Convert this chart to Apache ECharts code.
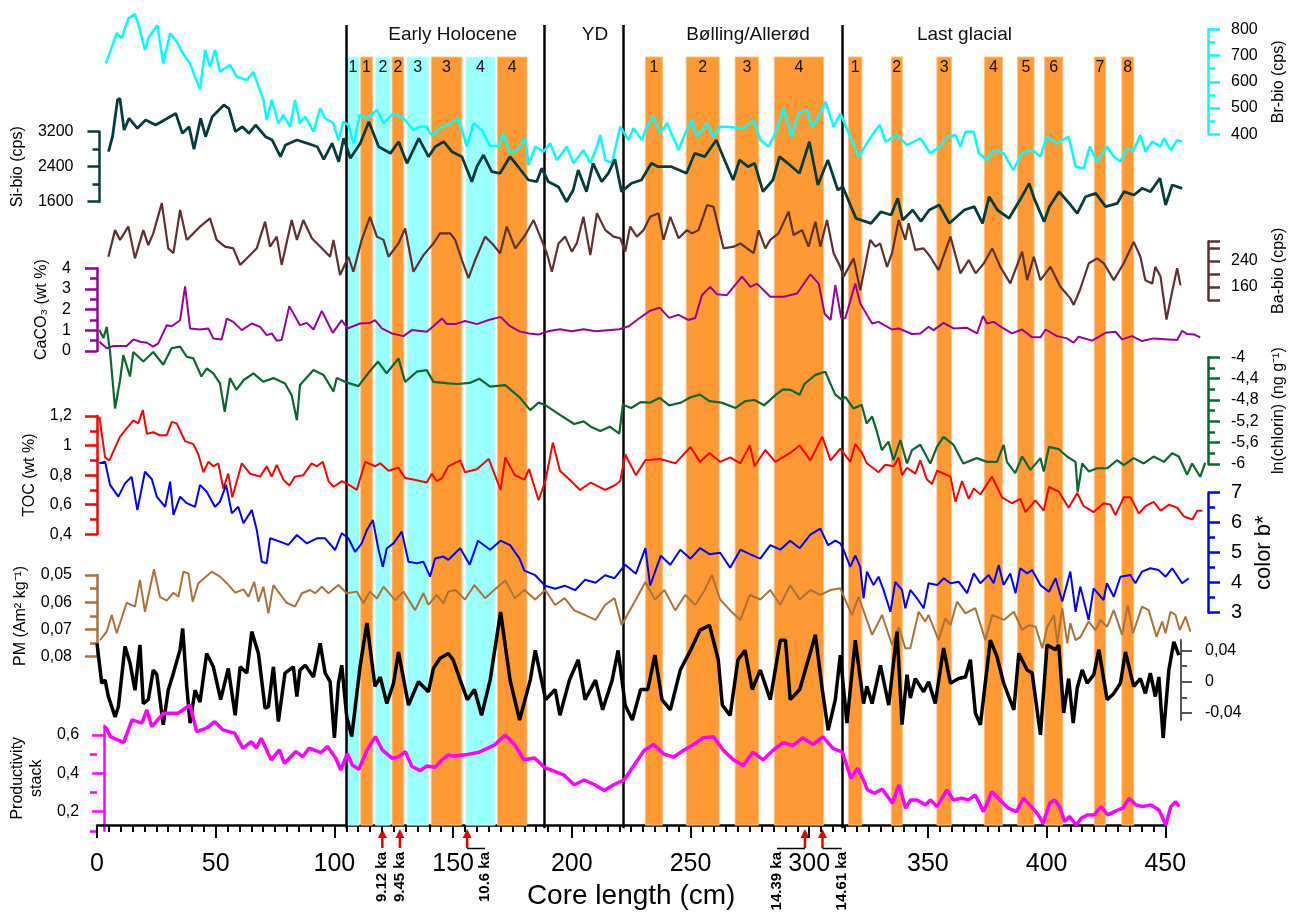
<!DOCTYPE html>
<html>
<head>
<meta charset="utf-8">
<title>Core proxies vs core length</title>
<script src="https://cdn.jsdelivr.net/npm/echarts@6/dist/echarts.min.js"></script>
<style>
html, body { margin: 0; padding: 0; background: #fff; }
#chart { width: 1298px; height: 915px; }
</style>
</head>
<body>
<div id="chart"></div>
<script>
// ---- data (core depth in cm, proxy value) ----
var brBio = [[3.8,670],[8.3,785],[10.4,766],[13.2,842],[16,858],[18.1,797],[20.2,721],[21.6,766],[25.4,816],[27.9,670],[30.8,785],[33.6,753],[36.1,709],[39.2,670],[41.3,619],[43.4,571],[45.5,721],[47.6,658],[49.7,721],[51.8,638],[56,664],[58.9,619],[63.1,607],[65.9,638],[70.1,531],[71.5,454],[73.6,531],[76.4,442],[78.5,474],[81.3,429],[83.4,531],[85.5,442],[87.7,467],[91.2,410],[94,499],[96.1,461],[99.6,442],[101.7,378],[103.8,448],[105.9,435],[108,366],[110.8,474],[113.7,461],[117.9,493],[120.7,442],[124.9,480],[129.1,461],[133.3,416],[136,429],[138.9,429],[140.3,404],[141.7,397],[144.5,423],[148.8,442],[152.3,461],[155.8,353],[158.6,442],[162.1,416],[165.6,355],[169.1,355],[171.2,404],[174,328],[176.8,340],[180.4,385],[181.8,283],[184.6,353],[188.1,334],[190.9,366],[193.7,302],[197.9,353],[200.7,290],[204.9,340],[207.8,290],[210.6,353],[212,397],[214.1,302],[216.9,290],[220.4,429],[223.9,378],[226,423],[229.5,378],[231.6,429],[234.4,467],[237.3,404],[240.1,442],[245,340],[247.8,404],[250.6,454],[252.7,391],[257,442],[259.7,391],[262.5,429],[265.3,429],[272.3,423],[276.6,454],[279.4,378],[282.9,353],[285.7,404],[289.2,499],[292.7,391],[295.5,480],[299.1,493],[301.2,429],[304,467],[306.8,524],[310.3,429],[313.1,480],[313.8,486],[317.3,391],[320.8,315],[326.5,397],[329.7,435],[332.1,372],[337,397],[341.2,359],[346.8,385],[351,328],[355.2,353],[358.1,391],[361.6,397],[363.7,353],[365.8,410],[369.3,410],[371.4,328],[374.9,302],[377.7,340],[381.9,328],[385.9,264],[389.7,328],[393.9,340],[397.4,315],[400,391],[404.4,366],[409.3,391],[412.2,277],[415.6,270],[418.2,353],[421.3,296],[425.5,353],[428.3,315],[431.1,296],[433.9,347],[436.7,340],[439.5,397],[441.6,334],[444.5,372],[448,353],[449.4,385],[452.2,340],[455,378],[457.1,372]];

var siBio = [[3.8,2743],[5.5,3086],[7.6,3925],[8.6,3963],[10.4,3239],[12.5,3506],[16,3278],[19.5,3467],[23.7,3353],[28.7,3506],[32.2,3620],[35,3163],[37.8,3314],[39.9,2798],[42.7,3506],[44.8,3086],[47.6,3543],[52.5,3810],[54.6,3735],[57.4,3200],[60.3,3314],[63.1,3163],[65.9,3353],[70.1,3086],[72.9,3010],[76.4,2629],[78.5,2896],[83.4,3010],[87.7,2935],[91.9,2857],[94.7,2569],[98.2,2935],[101,2514],[103.1,3049],[105.9,2592],[110.1,2935],[113.7,3428],[117.9,2857],[122.8,2706],[126.3,2971],[129.8,2478],[134.8,3049],[138.9,2629],[141.7,2857],[145.3,2971],[148.8,2743],[153,2629],[157.2,2057],[159.3,2400],[162.1,2667],[165.6,2286],[169.1,2249],[173.3,2629],[176.2,2439],[181.1,2096],[184.6,2057],[186.7,2363],[189.5,2057],[193.7,1943],[197.2,1600],[200,1867],[202.1,2325],[205.6,1829],[208.4,2478],[212,2057],[214.8,2249],[217.6,2569],[220.4,1829],[224.6,2021],[228.8,2096],[233,2478],[235.9,2400],[241.5,2400],[247.8,2249],[251.3,2706],[255.5,2629],[260.4,3010],[263.3,2629],[267.5,2096],[270.2,2553],[273.8,2400],[276.6,2478],[280.1,1829],[284.3,2096],[287.1,2629],[290.6,2478],[295.5,2249],[299.7,2971],[303.3,1981],[307.5,2553],[311.7,1867],[313.8,1943],[317.3,1486],[319.4,1220],[325.7,1106],[329.9,1371],[334.2,1296],[337,1677],[339.1,1182],[343.3,1410],[346.8,1150],[350.3,1410],[354.5,1524],[358.8,1106],[365.1,1410],[369.3,1486],[372.8,1106],[375.6,1714],[379.1,1410],[384,1220],[389,1677],[392.5,2020],[394.6,1677],[398.8,1143],[401,1486],[405.1,1829],[410,1524],[412.8,1334],[416.3,1714],[420.6,1791],[424.8,1486],[429.7,1562],[432.5,1829],[436.7,1753],[440.2,1906],[443.7,1829],[447.7,2135],[450.1,1524],[452.9,1981],[457.1,1906]];

var baBio = [[4.8,253],[7.6,335],[9.7,305],[13.2,346],[16,248],[19.5,335],[21.6,289],[23.7,325],[27.3,418],[30,279],[32.2,264],[35,397],[37.8,305],[40.6,325],[43.4,346],[47.6,371],[50.4,305],[53.9,284],[57.4,279],[60.3,228],[63.8,253],[67.3,279],[70.8,361],[72.9,284],[75.7,315],[77.8,228],[82,366],[84.2,305],[86.9,366],[90.5,310],[94.7,279],[98.2,253],[99.6,305],[102.4,197],[105.9,253],[108,207],[111.5,305],[115,376],[117.9,315],[120.7,305],[122.8,253],[127,294],[129.8,340],[133.3,207],[137.5,258],[141.7,294],[144.5,325],[148.8,325],[150.9,305],[153.7,243],[156.5,187],[159.3,243],[163.5,315],[167,289],[169.8,264],[172.6,346],[176.2,279],[180.4,320],[183.9,366],[186.7,315],[189.5,264],[191.6,207],[194.4,294],[197.2,315],[200,269],[202.1,294],[204.9,376],[207.8,258],[210.6,387],[214.1,335],[217.6,315],[220.4,310],[222.5,269],[224.6,346],[227.4,315],[230.2,335],[233,376],[236.5,387],[238.6,305],[241.5,376],[245,310],[248.5,335],[250.6,325],[253.4,335],[257,412],[259.7,407],[263.9,279],[268.2,284],[271,294],[273.8,279],[276.6,264],[278.7,335],[281.5,279],[283.6,305],[287.1,325],[291.3,392],[293.4,320],[297,335],[299.7,284],[302.6,361],[304.7,284],[307.5,366],[310.3,264],[313.1,222],[314.5,192],[318.7,248],[321.5,150],[325.7,305],[327.9,284],[329.9,294],[332.8,222],[334.9,264],[337.7,366],[340.5,305],[341.9,356],[344.7,274],[348.2,279],[351,253],[354.5,212],[359.5,315],[363.7,202],[367.2,243],[370.1,202],[373.6,233],[377.1,279],[380.5,222],[384.7,171],[389.7,269],[391.8,181],[394.6,253],[397.4,181],[401.6,222],[405.8,161],[410,125],[411.4,105],[414,150],[417.8,233],[421.3,248],[424.1,233],[428.3,181],[432.5,233],[436.7,299],[439.5,253],[441.6,181],[444.5,171],[445.8,222],[448,192],[450.5,60],[453,150],[455,218],[456.4,165]];

var caco3 = [[1,0.45],[4.1,0.13],[6.9,0.24],[12.5,0.24],[15.3,0.56],[18.1,0.45],[21,0.4],[23.7,0.21],[25.8,0.37],[29.4,1.25],[31.5,1.2],[35,1.49],[37.1,3.13],[39.2,1.09],[43.4,1.04],[46.9,1.09],[49,0.61],[52.5,0.56],[54.7,1.57],[57.4,1.41],[61,1.01],[65.2,1.33],[68.7,1.17],[71.5,0.77],[73.6,0.85],[75.7,0.5],[77.8,0.53],[81,2.17],[85.5,1.25],[88.4,1.36],[91.2,1.04],[94.7,1.94],[99.3,0.88],[103.1,1.49],[105.5,1.09],[110.8,1.33],[115,1.36],[117.1,1.49],[120,1.09],[124.2,0.85],[129.1,0.72],[132.6,1.01],[138.9,0.93],[141.7,1.2],[145.3,1.57],[147.4,1.3],[151,1.3],[155,1.45],[160,1.3],[165,1.5],[170,1.65],[174,1.2],[178,0.95],[182,0.85],[186,0.8],[190,0.95],[195,1.05],[200,0.95],[205,1.05],[210,0.95],[215,1.0],[220,1.05],[224,1.2],[228,1.55],[233,1.95],[237,2.1],[241,1.6],[245,1.75],[249,1.5],[252,1.6],[254.8,2.7],[258.3,3.1],[261.1,2.75],[265.3,2.7],[271.7,3.6],[275.2,3.1],[278,3.26],[283.6,2.62],[289.2,2.62],[294.9,2.78],[300.5,3.71],[304,3.26],[306.5,1.8],[309,1.5],[311,3.18],[313.5,1.6],[315.2,1.58],[319.4,3.26],[321.5,2.3],[326.5,1.33],[329.2,1.41],[334.9,1.04],[337.7,1.09],[343.3,0.82],[346.8,0.85],[350.3,1.17],[352.4,1.01],[356.6,1.36],[360.8,1.09],[366.5,1.12],[370.7,0.85],[373.2,1.69],[374.9,1.33],[377.7,1.41],[381.9,1.09],[385.4,0.85],[389.7,1.04],[393.9,0.66],[397.4,0.66],[399.6,1.04],[404.4,0.72],[408.6,0.61],[411.4,0.4],[413.5,0.69],[419.2,0.5],[424.8,0.88],[429,0.93],[431.8,0.56],[436,0.72],[440.2,0.48],[445.1,0.61],[451.4,0.56],[455,0.53],[457.1,0.98],[459.2,0.82],[462,0.8],[464.7,0.66]];

var chlorin = [[1,-3.49],[2.7,-3.64],[4.1,-3.43],[5.5,-3.9],[7.6,-4.96],[9.7,-4.43],[11.1,-3.96],[13.9,-4.36],[15.3,-3.9],[19.5,-4.08],[23.7,-3.9],[27.9,-4.14],[31.4,-3.83],[35,-3.8],[37.8,-3.99],[40.6,-4.02],[44,-4.36],[46.2,-4.21],[49,-4.3],[51.8,-4.49],[53.8,-5.02],[56,-4.39],[58.7,-4.61],[61.7,-4.43],[65.9,-4.3],[70.1,-4.46],[74.3,-4.39],[79.2,-4.49],[82,-4.71],[84.2,-5.18],[85.5,-4.52],[91.2,-4.24],[95.4,-4.33],[99.6,-4.64],[101,-4.39],[105.1,-4.47],[110.1,-4.54],[114.2,-4.3],[118.4,-4.08],[122,-4.3],[127,-4.02],[129.8,-4.46],[134.7,-4.27],[138.9,-4.24],[141.7,-4.46],[148,-4.49],[152,-4.5],[157,-4.48],[161,-4.4],[165.6,-4.55],[172,-4.52],[178,-4.75],[182.5,-4.99],[186,-4.85],[189,-4.9],[195,-5.08],[201,-5.25],[205,-5.2],[208,-5.3],[212,-5.38],[216,-5.3],[220,-5.43],[221.5,-4.89],[225,-4.95],[229,-4.84],[233,-4.85],[237,-4.76],[241,-4.9],[246,-4.85],[250,-4.75],[254,-4.7],[258,-4.82],[263,-4.85],[269,-4.95],[273,-4.82],[277,-4.8],[281,-4.9],[286,-4.7],[289,-4.6],[292,-4.61],[296,-4.7],[298,-4.5],[302.6,-4.33],[306.8,-4.27],[309,-4.5],[311,-4.7],[313.8,-4.8],[315.2,-4.74],[318.7,-4.96],[322.1,-4.89],[324.2,-5.24],[326.5,-5.11],[328.5,-5.39],[330.6,-5.74],[333.4,-5.58],[335.5,-5.93],[338.4,-5.55],[341.2,-5.99],[343.3,-5.74],[346.8,-5.64],[351,-5.99],[353.8,-5.68],[356.6,-5.49],[360.8,-5.64],[364.9,-5.99],[370.6,-5.89],[374.9,-5.96],[379.1,-5.96],[381.9,-5.64],[383.3,-5.96],[386.8,-6.17],[389.7,-5.86],[393.2,-6.11],[397.4,-5.89],[398.8,-6.14],[401,-5.68],[405.1,-5.72],[408.6,-5.86],[412.2,-5.96],[413.1,-6.52],[415,-5.99],[417.8,-6.14],[421.3,-6.08],[425.5,-6.08],[429.7,-5.93],[432.5,-6.02],[436.7,-5.89],[440.9,-5.99],[445.1,-5.86],[449.4,-5.96],[452.9,-5.8],[455.7,-5.86],[459.2,-6.2],[461.3,-5.99],[464.7,-6.24],[466.8,-5.98]];

var toc = [[1,1.195],[3.4,0.92],[5.2,0.9],[9.7,1.06],[15.3,1.17],[17.4,1.15],[19.3,1.24],[21,1.08],[23.7,1.09],[26.5,1.07],[29.4,1.07],[31.5,1.16],[33.6,1.15],[37.1,1.03],[40.6,1.01],[42.7,0.94],[44.8,0.82],[46.9,0.89],[49,0.86],[51.1,0.88],[53.2,0.71],[55.3,0.81],[57,0.65],[61,0.88],[64.5,0.81],[68.7,0.79],[71.5,0.86],[73.6,0.79],[75.7,0.87],[78.5,0.77],[81,0.73],[83.4,0.79],[86.9,0.8],[90.4,0.88],[92.6,0.86],[95.1,0.89],[97.5,0.76],[99.6,0.72],[103.1,0.76],[106.6,0.73],[109.4,0.7],[113,0.89],[117.1,0.86],[119.3,0.88],[122.8,0.83],[127,0.85],[129.8,0.78],[133.2,0.77],[138.9,0.75],[141,0.81],[143.1,0.76],[145.3,0.78],[148,0.86],[153,0.9],[155,0.82],[160,0.84],[165,0.91],[170,0.7],[172,0.92],[176,0.8],[180,0.77],[182,0.84],[186,0.63],[189,0.77],[192,1.02],[195,0.83],[199,0.77],[203.5,0.7],[208,0.75],[214,0.7],[218,0.73],[220.4,0.76],[222.5,0.94],[227,0.8],[231,0.9],[237,0.91],[243.6,0.88],[250,0.99],[254,0.89],[258,0.95],[262.5,0.89],[266.7,0.92],[271,0.88],[275,1.0],[277,0.86],[281.5,0.97],[285.7,0.89],[292,0.95],[296,1.0],[300.5,0.9],[305.5,1.06],[309,0.9],[313.1,0.98],[317.3,0.89],[319.4,1.01],[322.2,0.95],[324.3,0.88],[329.2,0.82],[332.1,0.87],[335.6,0.86],[337.7,0.92],[339.1,0.8],[341.2,0.85],[344.7,0.81],[346.8,0.9],[349.6,0.77],[351.7,0.74],[353.9,0.83],[359.5,0.79],[361.6,0.62],[364.4,0.76],[367.2,0.64],[369.3,0.71],[372.1,0.67],[377,0.79],[381.2,0.65],[385.4,0.61],[388.9,0.64],[391.1,0.55],[395.3,0.63],[398.8,0.56],[401,0.72],[405.1,0.69],[409.3,0.58],[412.9,0.68],[415.6,0.59],[419.8,0.55],[424.1,0.61],[426.9,0.6],[429,0.53],[432.5,0.65],[435.4,0.65],[438.9,0.54],[441.6,0.59],[445.1,0.62],[448,0.56],[451.5,0.6],[455,0.58],[457.9,0.52],[461.4,0.5],[463.5,0.56],[465.6,0.56]];

var colorB = [[1,7.98],[3.4,8.03],[5.5,7.26],[9,6.87],[11.8,7.31],[14.6,7.53],[17,6.42],[20.2,7.7],[23.1,7.45],[25.2,6.87],[28.7,6.53],[30.8,7.37],[32.2,6.26],[35,6.87],[37.8,6.65],[41.3,6.53],[43.4,7.26],[46.2,7.03],[49.7,6.53],[51.8,6.7],[54.4,7.26],[56.8,6.31],[59.5,6.53],[61.7,5.98],[65.2,6.42],[67.3,5.76],[69.4,4.7],[71.5,4.65],[72.9,5.48],[77.1,5.37],[80.6,5.26],[84.2,5.59],[88.4,5.31],[92.6,5.48],[96.1,5.48],[100.3,5.09],[103.1,5.65],[105.9,5.48],[108.7,5.03],[111.5,5.31],[113.7,5.76],[116.2,6.09],[118.6,5.09],[120.4,4.53],[122.1,5.15],[124.9,5.31],[128.4,5.7],[131.2,4.7],[134.7,4.65],[137.5,4.7],[140.3,4.2],[142.4,4.81],[145.9,4.87],[148,4.76],[153,5.15],[157,4.6],[160.5,5.4],[165.6,5.1],[170,5.4],[174,5.25],[178,4.8],[180,4.4],[184.6,4.25],[188.8,3.9],[193,3.8],[197,3.9],[201.4,3.75],[205.6,4.1],[210,4.0],[214,4.25],[218,4.15],[222.5,4.6],[227,4.3],[231,5.15],[233,3.9],[237.5,4.9],[241.5,4.6],[245.7,5.1],[250,4.8],[254,5.15],[258,4.95],[262.5,5.0],[266.7,4.5],[271,5.1],[275,4.95],[279.4,4.8],[283.6,5.25],[287.8,5.1],[292,5.4],[296,5.15],[300.5,5.6],[304.7,5.8],[308,5.25],[311,5.4],[313.1,5.31],[314.5,5.09],[317.3,4.53],[319.4,4.91],[321.5,4.53],[322.9,3.48],[324.3,4.37],[327.1,3.92],[329.2,4.2],[331.3,3.76],[334.2,3.03],[336.3,4.03],[339.1,3.76],[340.5,3.15],[342.6,3.76],[345.4,3.48],[348.2,3.15],[350.3,3.98],[353.9,3.92],[356.7,4.15],[359.5,3.98],[363,4.03],[366.5,3.65],[369.3,4.31],[372.1,3.98],[375.6,4.26],[377.7,3.98],[379.8,4.59],[381.9,3.92],[384.7,4.31],[386.9,3.65],[388.9,4.48],[391.8,4.31],[393.9,4.42],[397.4,3.92],[401,3.7],[403.8,4.15],[406.6,3.37],[410,4.37],[412.2,3.03],[414.2,3.87],[417.7,2.76],[419.8,3.81],[424,3.42],[425.4,3.98],[428.3,3.53],[431.1,4.2],[435.3,4.26],[437.4,3.98],[440.2,4.37],[443.7,4.48],[447.2,4.42],[450.1,4.2],[452.9,4.48],[457.1,3.98],[459.9,4.15]];

var pm = [[1.3,0.0739],[4.1,0.0708],[6.2,0.0647],[8.3,0.0714],[12.5,0.0602],[16,0.0616],[18.1,0.0518],[20.2,0.0635],[24,0.0479],[26.5,0.058],[29.4,0.0594],[32.2,0.0565],[34.3,0.058],[36.4,0.0488],[38.5,0.0494],[40.3,0.0598],[42.7,0.053],[48.3,0.0488],[51.8,0.0506],[54.7,0.053],[58.2,0.0565],[61.7,0.0553],[63.8,0.058],[66.2,0.0525],[68,0.0598],[70.1,0.0543],[72.2,0.0641],[74.3,0.0537],[79.9,0.0602],[83.4,0.0616],[86.3,0.0567],[89.8,0.0555],[91.9,0.0567],[94.7,0.0543],[97.5,0.0567],[101.7,0.0537],[105.2,0.0567],[109.4,0.0561],[112.2,0.0604],[115,0.0561],[117.9,0.0586],[120.7,0.0543],[125.6,0.0592],[129.1,0.0561],[134,0.0629],[137.5,0.0567],[139.6,0.061],[143.1,0.0573],[145.9,0.0604],[148,0.0561],[151,0.0555],[155,0.059],[159,0.0537],[163.5,0.0585],[168,0.055],[172,0.052],[176,0.0585],[180,0.0555],[184.6,0.059],[188.8,0.0555],[193,0.061],[197,0.0585],[201,0.063],[205.6,0.0647],[210,0.0665],[214,0.061],[218,0.0585],[221,0.0684],[227,0.059],[231,0.0526],[235,0.059],[239,0.0555],[243.6,0.063],[247.8,0.0573],[252,0.061],[256,0.0555],[259,0.05],[262.5,0.059],[266.7,0.063],[271,0.0665],[275,0.0573],[279.4,0.059],[283.6,0.0555],[287.8,0.061],[292,0.0537],[296,0.059],[300.5,0.0555],[304.7,0.0573],[309,0.0555],[313.1,0.0549],[318,0.0647],[320.8,0.058],[326.5,0.072],[330.7,0.0647],[334.9,0.0757],[337.7,0.069],[340.5,0.0769],[342.6,0.0769],[346.1,0.0635],[348.9,0.0671],[350.3,0.0647],[354.5,0.0739],[357.3,0.0659],[359.5,0.0684],[362.3,0.0598],[365.8,0.0641],[370,0.0622],[374.2,0.0739],[377.1,0.0647],[382,0.0665],[386.2,0.0635],[389.7,0.0702],[392.5,0.0684],[395.4,0.069],[398.2,0.0769],[400.3,0.069],[403.1,0.0647],[404.5,0.0751],[406.6,0.0622],[408.7,0.0751],[410,0.0677],[412.2,0.0739],[414.3,0.0727],[417.7,0.0671],[420.6,0.0702],[422.7,0.0665],[425.5,0.069],[428.3,0.0629],[431.8,0.072],[434.2,0.061],[436.4,0.0714],[440.2,0.0616],[443,0.0629],[446.3,0.0727],[448.7,0.0671],[450.1,0.0714],[452.2,0.0635],[454.3,0.0647],[456.1,0.0702],[458.5,0.0653],[460.6,0.0708]];

var blackSeries = [[0,0.049],[2,-0.002],[3.4,0.002],[4.8,-0.019],[7.6,-0.045],[9,-0.032],[11.8,0.045],[13.9,0.024],[16,-0.011],[18.1,0.047],[19.5,-0.028],[21.6,-0.023],[23.7,0.015],[25.2,0.009],[27.9,-0.055],[30,-0.011],[32.2,0.011],[35,0.041],[36.1,0.068],[37.8,-0.006],[39.2,-0.053],[41.3,-0.011],[43.4,-0.026],[46.2,0.036],[49,0.019],[52.1,-0.023],[55.3,0.017],[58.2,-0.043],[60.3,0.019],[63.1,0.011],[65.2,0.064],[68,0.036],[70.8,-0.034],[72.2,-0.032],[74.3,0.019],[76.4,-0.051],[79.2,0.011],[82.7,0.019],[84.2,-0.019],[85.5,0.015],[87.7,0.021],[91.2,0.006],[94,0.049],[96.1,0.011],[98.2,0],[100,-0.072],[101.7,-0.002],[103.1,0.021],[105.2,-0.045],[107.3,-0.07],[110.8,0.019],[113.7,0.075],[117.1,-0.006],[119.3,0.006],[122.1,-0.028],[124.9,-0.002],[127,0.038],[131.2,-0.03],[135.4,0],[139.6,-0.013],[141.7,0.017],[144.5,0.03],[148,0.036],[150,0.028],[153,0.002],[156,-0.023],[159,-0.01],[162,-0.043],[165.6,0.002],[170,0.089],[174,0.002],[178,-0.049],[182.5,0.002],[184.6,0.04],[189,-0.023],[193,-0.01],[195,-0.043],[199,0.002],[202.7,0.028],[205.6,-0.023],[210,0.002],[213,-0.036],[217,0.002],[219.5,0.04],[222.5,-0.03],[225.5,-0.049],[229,-0.01],[232,-0.01],[235,0.034],[238,-0.023],[241.5,-0.036],[245.7,0.015],[250,0.04],[254,0.066],[258,0.072],[261.7,0.028],[263.4,-0.03],[266.7,-0.043],[270,0.028],[273,0.04],[276,-0.01],[279.4,0.015],[283.6,-0.023],[287.8,0.053],[290,0.053],[292,-0.023],[296,-0.01],[299.6,0.028],[302.6,0.06],[305.5,-0.01],[308,-0.062],[311,-0.023],[313.1,0.034],[315.9,-0.053],[319.4,0.053],[322.9,-0.028],[324.3,-0.006],[326.5,-0.028],[330,0.021],[333.5,-0.03],[337,0.064],[339.1,-0.055],[341.2,0.009],[342.6,-0.021],[344.7,0.004],[348.2,-0.013],[350.3,0],[353.1,-0.028],[356.6,0.043],[359.5,-0.002],[363,0.004],[365.8,0.006],[367.9,0.028],[370,-0.04],[372.1,-0.055],[376.3,0.053],[379.1,0.032],[381.9,-0.002],[386.2,-0.036],[388.3,0.036],[391.8,0.015],[393.9,0.011],[397.4,-0.068],[400.2,0.047],[403.7,0.041],[405.1,0.047],[407.2,-0.04],[409.3,0.004],[411.2,-0.053],[412.9,-0.008],[415,0.015],[417.1,-0.002],[419.9,0.009],[422,0.041],[425.5,-0.023],[428.3,-0.015],[431.1,-0.002],[433.2,0.038],[436.7,-0.006],[439.5,0.004],[441.6,-0.015],[443.7,0.011],[445.8,-0.019],[447.3,0.006],[449.1,-0.072],[451.5,0.015],[453.6,0.051],[455.7,0.034]];

var prodStack = [[0.5,0.643],[2.7,0.591],[8.3,0.56],[11.8,0.678],[16,0.661],[18.1,0.73],[20.2,0.643],[25.2,0.713],[27.9,0.713],[31.4,0.713],[36.4,0.756],[39.2,0.617],[43.4,0.635],[46.9,0.669],[50.4,0.626],[55.3,0.609],[58.8,0.531],[62.4,0.565],[64.5,0.531],[66.6,0.583],[70.8,0.47],[74.3,0.522],[76.4,0.452],[81.3,0.513],[84.2,0.487],[86.9,0.531],[91.9,0.508],[94.7,0.539],[98.2,0.478],[100.3,0.417],[103.1,0.504],[105.2,0.443],[108,0.421],[111.5,0.522],[115,0.591],[117.9,0.522],[122.1,0.478],[124.9,0.487],[127.7,0.513],[130.5,0.435],[134,0.414],[136.8,0.438],[140.3,0.431],[143.2,0.47],[145.9,0.496],[148,0.49],[153,0.496],[159,0.51],[165.6,0.548],[170,0.6],[174,0.55],[178,0.47],[182.5,0.48],[186.7,0.43],[191,0.41],[195,0.39],[199.3,0.34],[203.5,0.365],[208,0.34],[212,0.31],[216,0.34],[220.4,0.365],[224.6,0.44],[229,0.52],[233,0.55],[237.3,0.5],[241.5,0.485],[245.7,0.52],[250,0.55],[254,0.585],[258.3,0.59],[262.5,0.52],[266.7,0.47],[271,0.44],[275,0.51],[279.4,0.47],[283.6,0.52],[287.8,0.56],[292,0.545],[296.2,0.585],[300.5,0.55],[304.7,0.59],[309,0.53],[313,0.51],[316.6,0.374],[319.4,0.426],[322.2,0.357],[323.6,0.313],[326.5,0.296],[329.9,0.317],[334.2,0.244],[337,0.339],[339.8,0.218],[341.9,0.261],[344.7,0.261],[348.2,0.235],[350.3,0.261],[353.1,0.226],[357.3,0.313],[360.1,0.261],[363.6,0.27],[366.5,0.261],[369.3,0.287],[372.8,0.2],[376.3,0.304],[379.8,0.261],[383.3,0.218],[386.8,0.2],[389.7,0.27],[393.2,0.226],[396,0.183],[398.1,0.139],[400.9,0.244],[403,0.261],[405.1,0.226],[407.2,0.148],[409.3,0.174],[412.1,0.13],[414.2,0.165],[417,0.183],[419.8,0.183],[422.6,0.226],[425.5,0.183],[428.3,0.2],[431.8,0.218],[434.6,0.27],[437.4,0.235],[440.2,0.226],[443.7,0.235],[447.2,0.209],[450.1,0.13],[452.2,0.226],[454.3,0.252],[455.7,0.226]];

// shaded intervals: [from, to, number, kind]  (c = cold/cyan, w = warm/orange)
var bands = [[105.2,110.5,'1','c'],[111.1,116.0,'1','w'],[117.3,123.5,'2','c'],[124.3,129.2,'2','w'],[130.6,139.6,'3','c'],[140.8,153.7,'3','w'],[155.4,167.7,'4','c'],[168.7,181.1,'4','w'],
  [231.0,238.2,'1','w'],[248.2,262.1,'2','w'],[268.8,278.7,'3','w'],[285.3,306.1,'4','w'],
  [316.6,322.2,'1','w'],[334.6,339.2,'2','w'],[353.8,359.9,'3','w'],[373.8,381.4,'4','w'],[387.8,394.7,'5','w'],[399.2,406.8,'6','w'],[420.1,424.8,'7','w'],[431.7,436.7,'8','w']];
var boundaries = [105.2, 188.4, 221.5, 313.8];
var periodNames = ['Early Holocene', 'YD', 'Bølling/Allerød', 'Last glacial'];
var periodCentres = [149.8, 209.8, 274.2, 365.4];
// age tie points: depth of arrow, label, depth where label sits
var ageDepth = [120.2, 127.6, 155.9, 298.2, 305.6];
var ageLabel = ['9.12 ka', '9.45 ka', '10.6 ka', '14.39 ka', '14.61 ka'];
var ageLabelDepth = [120.2, 127.6, 163.5, 286.4, 313.7];

// ---- layout ----
var FONT = '"Liberation Sans", Arial, sans-serif';
var X0 = 97, PX = 2.374, XMAX = 468, AXMAX = 450;
var W = XMAX * PX, AW = AXMAX * PX;

function comma(v) { return String(parseFloat(Number(v).toFixed(3))).replace('.', ','); }

var grids = [], xAxes = [], yAxes = [], series = [];

// grid 0: core length axis + shaded bands
grids.push({left: X0, width: AW, top: 57, height: 771.3});
xAxes.push({
  gridIndex: 0, type: 'value', min: 0, max: AXMAX, interval: 50,
  axisLine: {lineStyle: {color: '#000', width: 2.5}},
  axisTick: {length: 13, lineStyle: {color: '#000', width: 2}},
  minorTick: {show: true, splitNumber: 10, length: 7, lineStyle: {color: '#000', width: 2}},
  splitLine: {show: false},
  axisLabel: {color: '#000', fontSize: 25, fontFamily: FONT, margin: 27},
  name: 'Core length (cm)', nameLocation: 'middle', nameGap: 56,
  nameTextStyle: {color: '#000', fontSize: 28, fontFamily: FONT}
});
yAxes.push({gridIndex: 0, show: false, min: 0, max: 1});
series.push({
  type: 'line', xAxisIndex: 0, yAxisIndex: 0, data: [], silent: true, z: 1,
  markArea: {
    silent: true,
    data: bands.map(function (b) {
      return [{
        xAxis: b[0],
        itemStyle: {color: b[3] === 'c' ? '#99ffff' : '#ff9933', borderColor: b[3] === 'c' ? '#ccffff' : '#ffc080', borderWidth: 1},
        label: {show: true, position: 'insideTop', distance: 3, formatter: b[2], color: '#111', fontSize: 16, fontFamily: FONT}
      }, {xAxis: b[1]}];
    })
  }
});

// grid 1: period boundaries and names
grids.push({left: X0, width: AW, top: 25, height: 803.3});
xAxes.push({gridIndex: 1, type: 'value', min: 0, max: AXMAX, show: false});
yAxes.push({gridIndex: 1, show: false, min: 0, max: 1});
series.push({
  type: 'line', xAxisIndex: 1, yAxisIndex: 1, data: [], silent: true, z: 2,
  markLine: {
    silent: true, symbol: 'none', animation: false,
    lineStyle: {color: '#000', width: 2.5, type: 'solid'}, label: {show: false},
    data: boundaries.map(function (b) { return {xAxis: b}; })
  },
  markArea: {
    silent: true,
    data: periodNames.map(function (n, i) {
      return [{
        xAxis: periodCentres[i] - 1, itemStyle: {color: 'rgba(0,0,0,0)'},
        label: {show: true, position: 'insideTop', distance: 0, formatter: n, color: '#111', fontSize: 19, fontFamily: FONT}
      }, {xAxis: periodCentres[i] + 1}];
    })
  }
});

function addGrid(top, height) {
  var gi = grids.length;
  grids.push({left: X0, width: W, top: top, height: height});
  xAxes.push({gridIndex: gi, type: 'value', min: 0, max: XMAX, show: false});
  return gi;
}

function addPanel(p) {
  var gi = addGrid(p.top, p.height);
  var yi = yAxes.length;
  var c = p.axisColor || p.color;
  var ax = {
    gridIndex: gi, type: 'value', position: p.side, offset: p.offset || 0,
    min: p.min, max: p.max, inverse: !!p.inverse,
    axisLine: {show: true, onZero: false, lineStyle: {color: c, width: p.aw || 2.5}},
    axisTick: {show: true, length: p.tl || 12, lineStyle: {color: c, width: p.aw || 2.5}},
    minorTick: {show: !!p.minor, splitNumber: 2, length: 7, lineStyle: {color: c, width: p.aw || 2.5}},
    splitLine: {show: false}, minorSplitLine: {show: false},
    axisLabel: {show: true, color: '#000', fontSize: p.fs || 16, fontFamily: FONT, margin: p.margin, formatter: p.fmt || comma},
    name: p.name || '', nameLocation: 'middle', nameGap: p.gap, nameRotate: 90,
    nameTextStyle: {color: '#000', fontSize: p.nfs || 16, fontFamily: FONT, lineHeight: 19}
  };
  if (p.interval) ax.interval = p.interval;
  if (p.ticks) { ax.axisTick.customValues = p.ticks; ax.axisLabel.customValues = p.ticks; }
  yAxes.push(ax);
  series.push({
    type: 'line', xAxisIndex: gi, yAxisIndex: yi, data: p.data, showSymbol: false, clip: false,
    silent: true, z: 5, lineStyle: {color: p.color, width: p.lw}, itemStyle: {color: p.color}
  });
  if (p.minorTicks) {
    // short intermediate ticks on a twin axis in its own grid, anchored on the left edge
    // and shifted to where the main axis sits; ticks point away from the plot as on the main axis
    var gm = addGrid(p.top, p.height);
    var mainX = p.side === 'left' ? X0 : X0 + W + (p.offset || 0);
    yAxes.push({
      gridIndex: gm, type: 'value', position: 'left', offset: X0 - mainX, min: p.min, max: p.max,
      axisLine: {show: false}, splitLine: {show: false}, axisLabel: {show: false},
      axisTick: {show: true, inside: p.side !== 'left', customValues: p.minorTicks, length: p.mtl || 7, lineStyle: {color: c, width: p.aw || 2.5}}
    });
  }
}

addPanel({data: brBio, color: '#00ffff', lw: 2.5, side: 'right', top: 29.3, height: 105, min: 400, max: 800, interval: 100, minor: true, margin: 23, name: 'Br-bio (cps)', gap: 56});
addPanel({data: siBio, color: '#083c3c', lw: 2.8, side: 'left', top: 131.7, height: 70, min: 1600, max: 3200, interval: 800, minor: true, margin: 26, name: 'Si-bio (cps)', gap: 64});
addPanel({data: baBio, color: '#5e3232', lw: 2.2, side: 'right', top: 241.5, height: 58.5, min: 120, max: 300, interval: 40, margin: 23, name: 'Ba-bio (cps)', gap: 56,
  fmt: function (v) { return (v === 160 || v === 240) ? String(v) : ''; }});
addPanel({data: caco3, color: '#990099', lw: 2, side: 'left', top: 268.3, height: 82.7, min: 0, max: 4, interval: 1, minor: true, margin: 26, name: 'CaCO\u2083 (wt %)', gap: 39});
addPanel({data: chlorin, color: '#0e6632', lw: 2.2, side: 'right', top: 357.3, height: 106.7, min: -6, max: -4, interval: 0.4, minor: true, margin: 23, name: 'ln(chlorin) (ng g\u207B\u00B9)', gap: 56});
addPanel({data: toc, color: '#ff0000', lw: 2, side: 'left', top: 416, height: 118.3, min: 0.4, max: 1.2, interval: 0.2, minor: true, margin: 25, name: 'TOC (wt %)', gap: 49});
addPanel({data: colorB, color: '#0000ff', lw: 2, side: 'right', top: 492.7, height: 120, min: 3, max: 7, interval: 1, minor: true, margin: 23, fs: 20, name: 'color b*', nfs: 22, gap: 40});
addPanel({data: pm, color: '#a8733d', lw: 2, side: 'left', top: 575, height: 81.7, min: 0.05, max: 0.08, interval: 0.01, minor: true, inverse: true, margin: 25, name: 'PM (Am\u00B2 kg\u207B\u00B9)', gap: 57});
addPanel({data: blackSeries, color: '#000', axisColor: '#555', lw: 3.5, side: 'right', offset: -27, top: 640, height: 80, min: -0.049, max: 0.0533,
  ticks: [-0.04, 0, 0.04], minorTicks: [-0.02, 0.02], tl: 11, mtl: 6, aw: 2, margin: 24});
addPanel({data: prodStack, color: '#ff00ff', lw: 3.5, side: 'left', top: 725.7, height: 105.1, min: 0.1, max: 0.648,
  ticks: [0.2, 0.4, 0.6], minorTicks: [0.1, 0.3, 0.5], margin: 25, name: 'Productivity\nstack', gap: 53});

var chart = echarts.init(document.getElementById('chart'), null, {renderer: 'canvas'});
chart.setOption({
  animation: false,
  backgroundColor: '#fff',
  textStyle: {fontFamily: FONT},
  grid: grids, xAxis: xAxes, yAxis: yAxes, series: series
});

// age tie points under the depth axis, placed through the depth scale
var g = [];
ageDepth.forEach(function (d, i) {
  var x = chart.convertToPixel({xAxisIndex: 0}, d);
  var tx = chart.convertToPixel({xAxisIndex: 0}, ageLabelDepth[i]);
  g.push({type: 'line', silent: true, shape: {x1: x, y1: 848, x2: x, y2: 836}, style: {stroke: '#e00000', lineWidth: 2.5}});
  g.push({type: 'polygon', silent: true, shape: {points: [[x - 4.5, 838], [x + 4.5, 838], [x, 829]]}, style: {fill: '#e00000'}});
  if (Math.abs(tx - x) > 1) {
    g.push({type: 'line', silent: true, shape: {x1: x, y1: 848.5, x2: tx, y2: 848.5}, style: {stroke: '#000', lineWidth: 1.5}});
  }
  g.push({type: 'text', silent: true, x: tx, y: 852, rotation: Math.PI / 2,
    style: {text: ageLabel[i], fill: '#000', font: 'bold 15px "Liberation Sans", Arial, sans-serif',
      align: 'right', verticalAlign: 'middle', textAlign: 'right', textVerticalAlign: 'middle'}});
});
chart.setOption({graphic: g});
</script>
</body>
</html>
